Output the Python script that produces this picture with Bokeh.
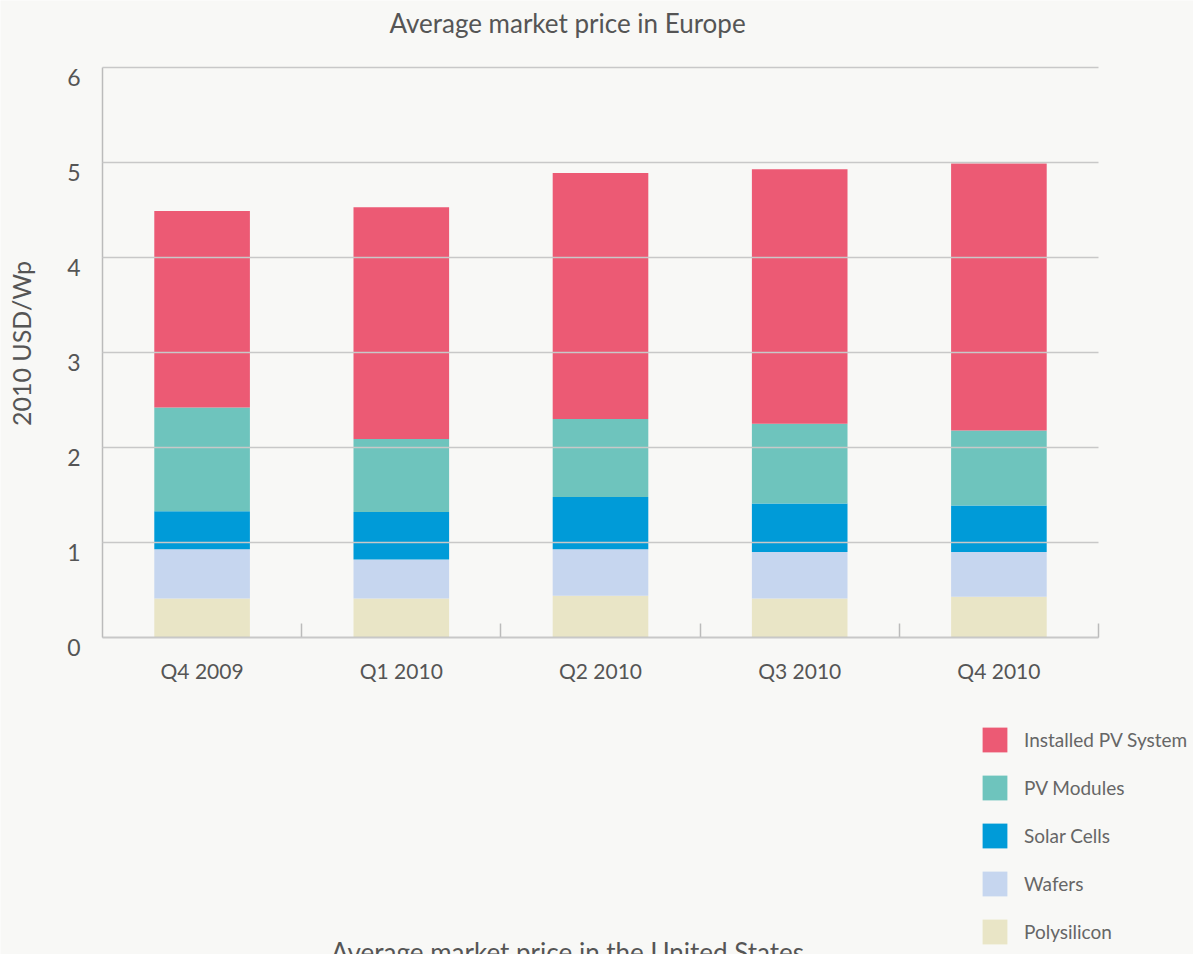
from bokeh.plotting import figure
from bokeh.models import (Range1d, FixedTicker, Legend, LegendItem, Label, ColumnDataSource,
                          LinearAxis)
from bokeh.embed import file_html
from bokeh.resources import INLINE

# ---- data ----
categories = ["Q4 2009", "Q1 2010", "Q2 2010", "Q3 2010", "Q4 2010"]
polysilicon = [0.41, 0.41, 0.44, 0.41, 0.43]
wafers = [0.52, 0.41, 0.49, 0.49, 0.47]
solar_cells = [0.40, 0.50, 0.55, 0.51, 0.49]
pv_modules = [1.09, 0.77, 0.82, 0.84, 0.79]
installed_pv = [2.07, 2.44, 2.59, 2.68, 2.81]
y_ticks = [0, 1, 2, 3, 4, 5, 6]

series = ["Polysilicon", "Wafers", "Solar Cells", "PV Modules", "Installed PV System"]
colors = ["#e9e5c6", "#c6d6ef", "#009bd8", "#6ec4bd", "#ec5a74"]

BG = "#f8f8f6"
TXT = "#555555"
GRID = "#c8c8c8"
FONT = "Lato"

W, H = 1193, 954
# frame covers the whole canvas; data->pixel layout
X0_PX, PX_PER_CAT = 102, 199.2
Y0_PX, PX_PER_UNIT = 637, 95.0
LABEL_DROP = 0.1  # tick labels sit slightly below their gridline

xs = [i + 0.5 for i in range(len(categories))]
source = ColumnDataSource(dict(x=xs, **{
    "Polysilicon": polysilicon,
    "Wafers": wafers,
    "Solar Cells": solar_cells,
    "PV Modules": pv_modules,
    "Installed PV System": installed_pv,
}))

x_range = Range1d(-X0_PX / PX_PER_CAT, (W - X0_PX) / PX_PER_CAT)
y_range = Range1d(-(H - Y0_PX) / PX_PER_UNIT, Y0_PX / PX_PER_UNIT)

p = figure(width=W, height=H, output_backend="svg", toolbar_location=None,
           x_range=x_range, y_range=y_range,
           min_border=0, min_border_left=0, min_border_right=0,
           min_border_top=0, min_border_bottom=0,
           background_fill_color=BG, border_fill_color=BG)
p.outline_line_color = None
p.xgrid.visible = False
p.ygrid.visible = False

# y axis: line + gridlines (as long inward ticks)
ya = p.yaxis[0]
ya.fixed_location = 0
ya.bounds = (0, max(y_ticks))
ya.ticker = FixedTicker(ticks=y_ticks)
ya.axis_line_color = "#bbbbbb"
ya.axis_line_width = 1.5
ya.major_tick_line_color = GRID
ya.major_tick_line_width = 1.5
ya.major_tick_in = int(round(PX_PER_CAT * len(categories)))
ya.major_tick_out = 0
ya.minor_tick_line_color = None
ya.major_label_text_color = None

# y axis: tick labels + title
yl = LinearAxis(fixed_location=0, bounds=(-LABEL_DROP, 6.29))
yl.ticker = FixedTicker(ticks=[round(t - LABEL_DROP, 2) for t in y_ticks])
yl.major_label_overrides = {round(t - LABEL_DROP, 2): str(t) for t in y_ticks}
yl.axis_line_color = None
yl.major_tick_line_color = None
yl.minor_tick_line_color = None
yl.major_label_text_font = FONT
yl.major_label_text_font_size = "23px"
yl.major_label_text_color = TXT
yl.major_label_standoff = 16
yl.axis_label = "2010 USD/Wp"
yl.axis_label_text_font = FONT
yl.axis_label_text_font_size = "25px"
yl.axis_label_text_font_style = "normal"
yl.axis_label_text_color = TXT
yl.axis_label_standoff = 28
p.add_layout(yl, "left")

renderers = p.vbar_stack(series, x="x", width=0.48, source=source,
                         color=colors, line_color=None)

# x axis
xa = p.xaxis[0]
xa.fixed_location = 0
xa.bounds = (0, len(categories))
xa.ticker = FixedTicker(ticks=xs, minor_ticks=list(range(1, len(categories) + 1)))
xa.major_label_overrides = {x: c for x, c in zip(xs, categories)}
xa.axis_line_color = "#bbbbbb"
xa.axis_line_width = 1.5
xa.major_tick_line_color = None
xa.minor_tick_line_color = "#bbbbbb"
xa.minor_tick_line_width = 1.5
xa.minor_tick_in = 14
xa.minor_tick_out = 0
xa.major_label_text_font = FONT
xa.major_label_text_font_size = "21px"
xa.major_label_text_color = TXT
xa.major_label_standoff = 14

# titles
p.add_layout(Label(x=(567 - X0_PX) / PX_PER_CAT, y=(Y0_PX - 22) / PX_PER_UNIT,
                   text="Average market price in Europe",
                   text_align="center", text_baseline="middle",
                   text_font=FONT, text_font_size="26px", text_color=TXT))
p.add_layout(Label(x=(567 - X0_PX) / PX_PER_CAT, y=-(951 - Y0_PX) / PX_PER_UNIT,
                   text="Average market price in the United States",
                   text_align="center", text_baseline="middle",
                   text_font=FONT, text_font_size="26px", text_color=TXT))

# legend
items = [LegendItem(label=s, renderers=[r]) for s, r in zip(series, renderers)][::-1]
legend = Legend(items=items, location=(979, 7), orientation="vertical",
                glyph_width=31, glyph_height=31, label_height=31, spacing=17,
                label_standoff=14, padding=0, margin=0,
                border_line_color=None, background_fill_alpha=0,
                label_text_font=FONT, label_text_font_size="19px",
                label_text_color="#666666")
p.add_layout(legend)

open("out.html", "w").write(file_html(p, INLINE))
